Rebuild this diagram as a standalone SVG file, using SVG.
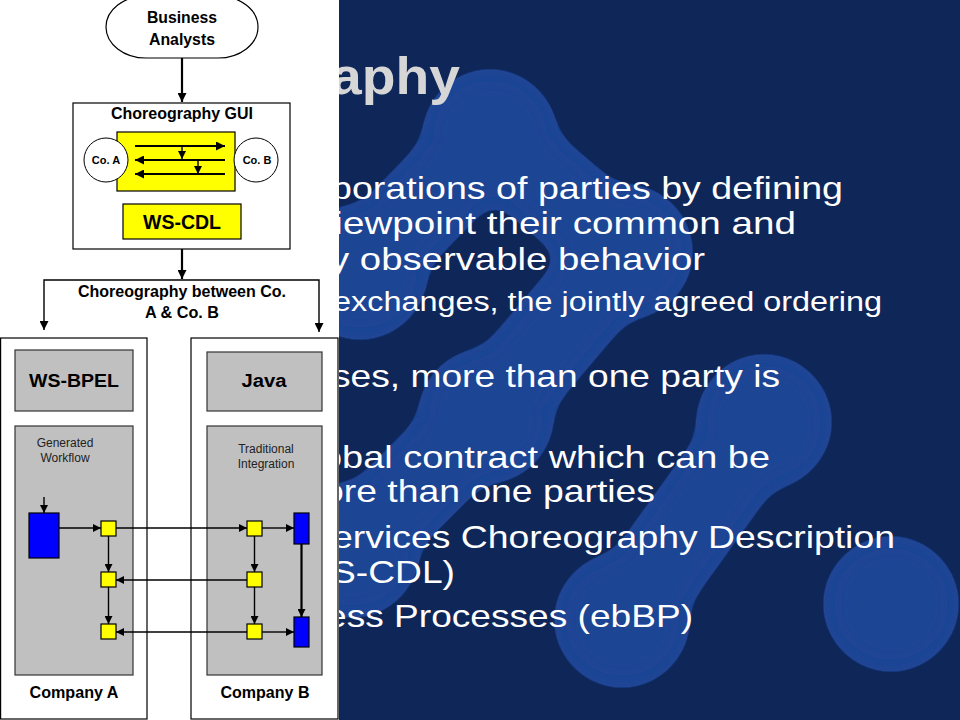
<svg xmlns="http://www.w3.org/2000/svg" width="960" height="720" viewBox="0 0 960 720">
<defs>
<style>
.bg{fill:#0f2659}
.blob{fill:#1b4594}
.blobline{stroke:#1b4594;stroke-width:92;stroke-linecap:round}
.bul{font-family:"Liberation Sans",Arial,sans-serif;fill:#ffffff;font-size:32px}
.ttl{font-family:"Liberation Sans",Arial,sans-serif;fill:#d6d6d6;font-size:52px;font-weight:bold}
.lb{font-family:"Liberation Sans",Arial,sans-serif;font-weight:bold;fill:#000;text-anchor:middle}
.sm{font-family:"Liberation Sans",Arial,sans-serif;fill:#222;text-anchor:middle;font-size:12px}
.box{fill:#fff;stroke:#000;stroke-width:1.2}
.yel{fill:#ffff00;stroke:#000;stroke-width:1.2}
.gry{fill:#c0c0c0;stroke:#333;stroke-width:1.2}
.blu{fill:#0000ff;stroke:#000;stroke-width:1.2}
.cn{fill:none;stroke:#000;stroke-width:1.4}
.cnb{fill:none;stroke:#000;stroke-width:2.2}
</style>
<marker id="ah" viewBox="0 0 10 10" refX="10" refY="5" markerUnits="userSpaceOnUse" markerWidth="9" markerHeight="9" orient="auto"><path d="M0,0 L10,5 L0,10 z" fill="#000"/></marker>
<marker id="ahs" viewBox="0 0 10 10" refX="10" refY="5" markerUnits="userSpaceOnUse" markerWidth="8" markerHeight="8" orient="auto"><path d="M0,0 L10,5 L0,10 z" fill="#000"/></marker>
<filter id="goo" filterUnits="userSpaceOnUse" x="0" y="0" width="960" height="720">
<feGaussianBlur in="SourceGraphic" stdDeviation="12"/>
<feColorMatrix values="1 0 0 0 0  0 1 0 0 0  0 0 1 0 0  0 0 0 20 -9"/>
</filter>
</defs>

<g id="background">
<rect class="bg" x="0" y="0" width="960" height="720"/>
<g filter="url(#goo)">
<circle class="blob" cx="490" cy="137" r="68"/>
<circle class="blob" cx="360" cy="272" r="68"/>
<circle class="blob" cx="625" cy="252" r="68"/>
<circle class="blob" cx="486" cy="416" r="68"/>
<circle class="blob" cx="352" cy="550" r="68"/>
<circle class="blob" cx="622" cy="620" r="68"/>
<circle class="blob" cx="764" cy="422" r="68"/>
<circle class="blob" cx="891" cy="604" r="68"/>
<line class="blobline" x1="490" y1="137" x2="360" y2="272"/>
<line class="blobline" x1="490" y1="137" x2="625" y2="252"/>
<line class="blobline" x1="625" y1="252" x2="486" y2="416"/>
<line class="blobline" x1="486" y1="416" x2="352" y2="550"/>
<line class="blobline" x1="622" y1="620" x2="764" y2="422"/>
</g>
</g>

<g id="slide-text">
<text class="ttl" x="331" y="94" textLength="129" lengthAdjust="spacingAndGlyphs">aphy</text>
<text class="bul" x="331" y="199" textLength="512" lengthAdjust="spacingAndGlyphs">borations of parties by defining</text>
<text class="bul" x="315" y="234" textLength="481" lengthAdjust="spacingAndGlyphs">viewpoint their common and</text>
<text class="bul" x="330" y="270" textLength="375" lengthAdjust="spacingAndGlyphs">y observable behavior</text>
<text class="bul" x="333" y="311" textLength="549" lengthAdjust="spacingAndGlyphs" style="font-size:27px">exchanges, the jointly agreed ordering</text>
<text class="bul" x="332" y="387" textLength="448" lengthAdjust="spacingAndGlyphs">ses, more than one party is</text>
<text class="bul" x="321" y="468" textLength="449" lengthAdjust="spacingAndGlyphs">obal contract which can be</text>
<text class="bul" x="323" y="502" textLength="332" lengthAdjust="spacingAndGlyphs">ore than one parties</text>
<text class="bul" x="332" y="548" textLength="563" lengthAdjust="spacingAndGlyphs">ervices Choreography Description</text>
<text class="bul" x="331" y="583" textLength="124" lengthAdjust="spacingAndGlyphs">S-CDL)</text>
<text class="bul" x="326" y="627" textLength="367" lengthAdjust="spacingAndGlyphs">ess Processes (ebBP)</text>
</g>

<rect id="panel" x="0" y="0" width="339" height="720" fill="#ffffff"/>

<g id="business-analysts">
<rect class="box" x="106" y="-4" width="152" height="62" rx="40" ry="31"/>
<text class="lb" x="182" y="23" font-size="16" textLength="70" lengthAdjust="spacingAndGlyphs">Business</text>
<text class="lb" x="182" y="45" font-size="16" textLength="66" lengthAdjust="spacingAndGlyphs">Analysts</text>
</g>

<g id="choreography-gui">
<rect class="box" x="73" y="103" width="217" height="146"/>
<text class="lb" x="182" y="119" font-size="16" textLength="142" lengthAdjust="spacingAndGlyphs">Choreography GUI</text>
<rect class="yel" x="117" y="132" width="118" height="59"/>
<g id="co-a"><circle cx="106" cy="160" r="22" fill="#fff" stroke="#000" stroke-width="1"/>
<text class="lb" x="106" y="164" font-size="11">Co. A</text></g>
<g id="co-b"><circle cx="256" cy="160" r="22" fill="#fff" stroke="#000" stroke-width="1"/>
<text class="lb" x="257" y="164" font-size="11">Co. B</text></g>
<g id="ws-cdl"><rect class="yel" x="123" y="204" width="118" height="35"/>
<text class="lb" x="182" y="229" font-size="20" textLength="78" lengthAdjust="spacingAndGlyphs">WS-CDL</text></g>
</g>

<g id="split-label">
<text class="lb" x="182" y="297" font-size="16" textLength="208" lengthAdjust="spacingAndGlyphs">Choreography between Co.</text>
<text class="lb" x="182" y="318" font-size="16" textLength="74" lengthAdjust="spacingAndGlyphs">A &amp; Co. B</text>
</g>

<g id="company-a">
<rect class="box" x="0.6" y="338" width="146.4" height="381"/>
<rect class="gry" x="15" y="350" width="118" height="61"/>
<text class="lb" x="74" y="387" font-size="18" textLength="90" lengthAdjust="spacingAndGlyphs">WS-BPEL</text>
<rect class="gry" x="15" y="426" width="118" height="249"/>
<text class="sm" x="65" y="447">Generated</text>
<text class="sm" x="65" y="462">Workflow</text>
<rect class="blu" x="29" y="513" width="30" height="45"/>
<rect class="yel" x="101" y="521" width="15" height="15"/>
<rect class="yel" x="101" y="572" width="15" height="15"/>
<rect class="yel" x="101" y="624" width="15" height="15"/>
<text class="lb" x="74" y="698" font-size="17" textLength="89" lengthAdjust="spacingAndGlyphs">Company A</text>
</g>

<g id="company-b">
<rect class="box" x="191" y="338" width="147" height="381"/>
<rect class="gry" x="207" y="352" width="115" height="59"/>
<text class="lb" x="264" y="387" font-size="18" textLength="45" lengthAdjust="spacingAndGlyphs">Java</text>
<rect class="gry" x="207" y="426" width="115" height="249"/>
<text class="sm" x="266" y="453">Traditional</text>
<text class="sm" x="266" y="468">Integration</text>
<rect class="blu" x="294" y="513" width="15" height="31"/>
<rect class="blu" x="294" y="617" width="15" height="30"/>
<rect class="yel" x="247" y="521" width="15" height="15"/>
<rect class="yel" x="247" y="572" width="15" height="15"/>
<rect class="yel" x="247" y="624" width="15" height="15"/>
<text class="lb" x="265" y="698" font-size="17" textLength="89" lengthAdjust="spacingAndGlyphs">Company B</text>
</g>

<g id="connectors">
<path class="cnb" d="M182,58 V102" marker-end="url(#ah)"/>
<path class="cnb" d="M182,249 V279" marker-end="url(#ah)"/>
<path class="cn" d="M182,280 H44 V330" marker-end="url(#ah)"/>
<path class="cn" d="M182,280 H319 V332" marker-end="url(#ah)"/>
<path class="cnb" d="M135,146 H225" marker-end="url(#ah)"/>
<path class="cnb" d="M225,160 H135" marker-end="url(#ah)"/>
<path class="cnb" d="M225,174 H135" marker-end="url(#ah)"/>
<path class="cn" d="M182,146 V159" marker-end="url(#ahs)"/>
<path class="cn" d="M198,160 V174" marker-end="url(#ahs)"/>
<path class="cn" d="M44,497 V513" marker-end="url(#ahs)"/>
<path class="cn" d="M59,528 H101" marker-end="url(#ahs)"/>
<path class="cn" d="M116,528 H247" marker-end="url(#ahs)"/>
<path class="cn" d="M262,528 H294" marker-end="url(#ahs)"/>
<path class="cn" d="M108.5,536 V572" marker-end="url(#ahs)"/>
<path class="cn" d="M108.5,587 V624" marker-end="url(#ahs)"/>
<path class="cn" d="M254.5,536 V572" marker-end="url(#ahs)"/>
<path class="cn" d="M254.5,587 V624" marker-end="url(#ahs)"/>
<path class="cn" d="M247,580 H116" marker-end="url(#ahs)"/>
<path class="cn" d="M247,632 H116" marker-end="url(#ahs)"/>
<path class="cn" d="M262,632 H294" marker-end="url(#ahs)"/>
<path class="cnb" d="M301.5,544 V617" marker-end="url(#ahs)"/>
</g>
</svg>
